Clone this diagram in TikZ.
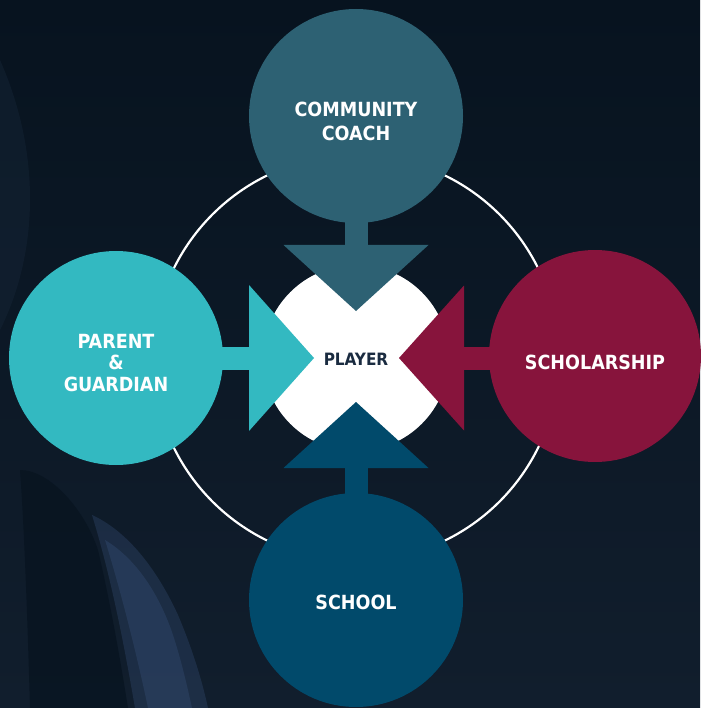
\documentclass[tikz,border=0pt]{standalone}
\usepackage{fontspec}
\setmainfont{DejaVu Sans}
\newfontfamily\labelfont{DejaVu Sans Condensed}
\usetikzlibrary{calc}
\definecolor{bgbase}{HTML}{111E2D}
\definecolor{bgdark}{HTML}{07131F}
\definecolor{bglight}{HTML}{1A2B3E}
\definecolor{armcol}{HTML}{2C4264}
\definecolor{coachcol}{HTML}{2D6173}
\definecolor{parentcol}{HTML}{33B9C1}
\definecolor{scholcol}{HTML}{87143C}
\definecolor{schoolcol}{HTML}{014A6B}
\definecolor{playertxt}{HTML}{1A2B40}
\tikzset{
  bigcircle/.style={circle, minimum size=214pt, inner sep=0pt, draw=none},
  labeltext/.style={text=white, font=\labelfont\bfseries\fontsize{19.5}{24}\selectfont, align=center, inner sep=0pt}
}
\begin{document}
\begin{tikzpicture}[x=1pt,y=-1pt]
\useasboundingbox (0,0) rectangle (700,708);
% background
\shade[top color=bgdark, bottom color=bgbase] (0,0) rectangle (700,708);
\fill[bglight, opacity=0.35] (0,60) .. controls (40,150) and (40,250) .. (0,330) -- cycle;
\fill[bgdark, opacity=0.7] (20,470) .. controls (50,470) and (85,510) .. (98,550) .. controls (112,610) and (122,670) .. (128,708) -- (30,708) .. controls (28,640) and (25,540) .. cycle;
\fill[armcol, opacity=0.45] (92,515) .. controls (125,530) and (155,565) .. (178,615) .. controls (192,648) and (202,680) .. (208,708) -- (135,708) .. controls (125,650) and (112,580) .. cycle;
\fill[armcol, opacity=0.6] (105,540) .. controls (135,558) and (158,592) .. (172,632) .. controls (182,662) and (188,690) .. (192,708) -- (148,708) .. controls (138,660) and (122,595) .. cycle;
% centre and ring
\coordinate (P) at (356,358);
\node[circle, draw=white, line width=2.2pt, minimum size=406pt, inner sep=0pt] (ring) at (P) {};
\node[circle, fill=white, minimum size=186pt, inner sep=0pt] (core) at (P) {};
% outer circles' centres
\coordinate (Ctop) at (356,116);
\coordinate (Cleft) at (116,358);
\coordinate (Cright) at (595,356);
\coordinate (Cbot) at (356,600);
% arrows
\fill[coachcol] ($(P)+(-11.5,-160)$) rectangle ($(P)+(11.5,-112)$);
\fill[coachcol] ($(P)+(-72.5,-113)$) -- ($(P)+(72.5,-113)$) -- ($(P)+(0,-47)$) -- cycle;
\fill[schoolcol] ($(P)+(-11.5,160)$) rectangle ($(P)+(11.5,109)$);
\fill[schoolcol] ($(P)+(-72.5,110)$) -- ($(P)+(72.5,110)$) -- ($(P)+(0,44)$) -- cycle;
\fill[parentcol] ($(P)+(-160,-11.5)$) rectangle ($(P)+(-106,11.5)$);
\fill[parentcol] ($(P)+(-107,-73)$) -- ($(P)+(-107,73)$) -- ($(P)+(-42,0)$) -- cycle;
\fill[scholcol] ($(P)+(160,-11.5)$) rectangle ($(P)+(107,11.5)$);
\fill[scholcol] ($(P)+(108,-72.5)$) -- ($(P)+(108,72.5)$) -- ($(P)+(43,0)$) -- cycle;
% outer circles
\node[bigcircle, fill=coachcol] (coach) at (Ctop) {};
\node[bigcircle, fill=parentcol] (parent) at (Cleft) {};
\node[bigcircle, fill=scholcol, minimum size=212pt] (schol) at (Cright) {};
\node[bigcircle, fill=schoolcol] (school) at (Cbot) {};
% texts
\node[labeltext] (tcoach) at (356,121) {COMMUNITY\\COACH};
\node[labeltext, font=\labelfont\bfseries\fontsize{19.5}{21.5}\selectfont] (tparent) at (116,363) {PARENT\\\&\\GUARDIAN};
\node[labeltext] (tschol) at (595,362) {SCHOLARSHIP};
\node[labeltext] (tschool) at (356,602) {SCHOOL};
\node[text=playertxt, font=\labelfont\bfseries\fontsize{17}{18}\selectfont, inner sep=0pt] (tplayer) at (356,359) {PLAYER};
\end{tikzpicture}
\end{document}
